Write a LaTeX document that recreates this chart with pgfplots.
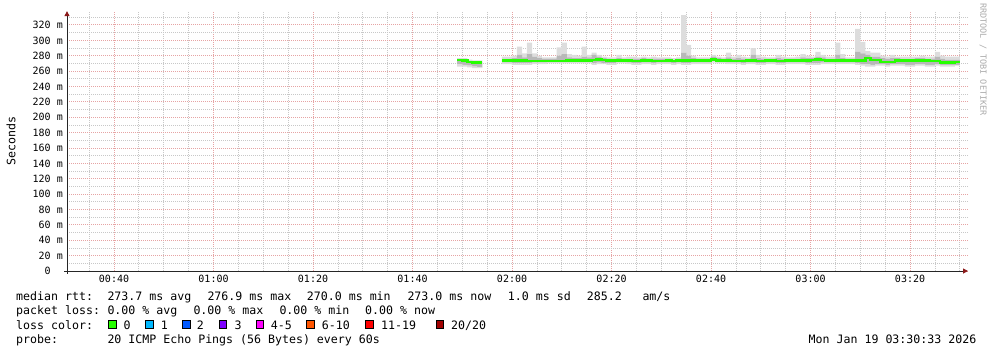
\documentclass[border=0pt]{standalone}
\usepackage{pgfplots}
\pgfplotsset{compat=1.18}
\usepackage{pgfplotstable}
\usetikzlibrary{arrows.meta}
\usepackage{fontspec}
\setmainfont{DejaVu Sans Mono}
\definecolor{smokeA}{HTML}{DDDDDD}
\definecolor{smokeB}{HTML}{B8B8B8}
\definecolor{medgreen}{HTML}{26FF00}
\definecolor{majgrid}{HTML}{E6A4A4}
\definecolor{mingrid}{HTML}{C8C8C8}
\definecolor{arrowred}{HTML}{8B1A1A}
\definecolor{lc0}{HTML}{26FF00}
\definecolor{lc1}{HTML}{00B8FF}
\definecolor{lc2}{HTML}{0059FF}
\definecolor{lc3}{HTML}{7E00FF}
\definecolor{lc4}{HTML}{FF00FF}
\definecolor{lc5}{HTML}{FF5500}
\definecolor{lc6}{HTML}{FF0000}
\definecolor{lc7}{HTML}{A10000}
\newcommand\lf{\fontsize{11.6bp}{14bp}\selectfont}
\newcommand\tf{\fontsize{10bp}{12bp}\selectfont}

% smoke: per-minute min, lower band, upper band, max
\pgfplotstableread{
t lo qlo qhi hi
109 266 269 275 277
110 266 268 275 277
111 265 267 273 275
112 264 266 272 274
113 264 265 272 274
118 269 271 276 279
119 269 271 276 279
120 268 270 277 280
121 268 270 281 292
122 268 270 278 283
123 268 270 282 297
124 269 271 279 283
125 269 271 277 280
126 269 271 276 278
127 270 272 276 278
128 270 272 276 278
129 270 272 280 291
130 270 272 282 297
131 270 272 278 282
132 270 272 277 281
133 270 272 277 280
134 270 272 279 292
135 270 272 278 281
136 268 270 281 284
137 269 271 279 281
138 269 270 277 279
139 268 270 276 278
140 268 270 275 278
141 270 272 277 281
142 270 272 276 278
143 269 271 276 279
144 268 270 276 279
145 268 270 276 278
146 269 271 277 279
147 269 271 276 278
148 268 270 276 279
149 269 271 276 278
150 269 271 276 278
151 269 271 276 278
152 268 270 275 277
153 269 271 276 278
154 268 270 284 333
155 268 270 280 294
156 269 271 277 280
157 269 271 276 278
158 269 271 276 278
159 269 271 276 278
160 271 273 279 281
161 270 272 277 279
162 270 272 276 278
163 269 271 278 284
164 269 271 276 279
165 269 271 277 281
166 268 270 276 279
167 269 271 276 278
168 269 271 281 290
169 268 270 277 281
170 268 270 276 279
171 269 271 276 278
172 269 271 276 278
173 268 270 277 281
174 268 270 276 279
175 269 271 276 278
176 269 271 276 278
177 269 271 276 279
178 269 271 278 282
179 268 270 277 280
180 268 270 277 279
181 268 270 279 285
182 269 271 278 281
183 269 271 276 279
184 269 271 276 279
185 269 271 281 297
186 269 271 277 282
187 269 271 276 278
188 269 271 276 278
189 268 270 285 315
190 267 269 283 298
191 266 269 281 286
192 266 268 279 284
193 267 269 279 284
194 267 269 277 280
195 266 268 276 279
196 267 269 277 281
197 267 269 277 279
198 267 269 276 279
199 266 268 276 279
200 266 268 276 279
201 267 269 277 279
202 267 269 277 280
203 266 268 276 279
204 266 268 276 279
205 267 269 279 285
206 266 268 276 280
207 266 268 275 279
208 266 268 275 279
209 267 268 275 279
}\smoke

% median rtt, first stretch
\pgfplotstableread{
t med
109 274.5
110 274
111 272
112 271.5
113 271.5
114 271.5
}\medA

% median rtt, second stretch
\pgfplotstableread{
t med
118 273.5
119 273.5
120 273.5
121 273.5
122 273.5
123 273
124 273
125 273
126 273
127 273
128 273
129 273
130 273
131 273.5
132 273.5
133 273.5
134 274
135 274
136 274.5
137 275
138 274.5
139 273.5
140 273.5
141 274
142 274
143 273.5
144 273
145 273
146 273.5
147 273.5
148 273
149 273
150 273
151 273.5
152 273
153 273.5
154 273.5
155 273.5
156 274
157 274
158 273.5
159 273.5
160 275.5
161 274
162 273.5
163 273.5
164 273
165 273
166 273
167 273.5
168 273.5
169 273
170 273
171 273.5
172 273.5
173 273
174 273
175 273.5
176 273.5
177 273.5
178 274
179 273.5
180 274.5
181 275
182 274.5
183 273.5
184 273.5
185 273.5
186 273.5
187 273.5
188 273.5
189 273.5
190 274
191 277
192 274.5
193 274.5
194 272
195 272
196 272
197 274
198 274
199 274
200 274
201 274
202 274
203 274
204 273
205 273
206 271.5
207 271.5
208 271.5
209 272
210 272
}\medB

\pgfplotsset{
  frame/.style={
    at={(67bp,-271bp)}, anchor=south west,
    scale only axis, width=901bp, height=259.84bp,
    xmin=30.55, xmax=211.65, ymin=0, ymax=338,
  }
}

\begin{document}
\begin{tikzpicture}
\path[use as bounding box] (0,0) rectangle (993bp,-353bp);
\begin{axis}[
  frame,
  axis lines=left,
  axis line style={draw=black!85, line width=1bp, -{Triangle[length=5bp,width=5bp,color=arrowred]}},
  xtick={40,60,...,200},
  xticklabels={00:40,01:00,01:20,01:40,02:00,02:20,02:40,03:00,03:20},
  minor xtick={35,45,50,55,65,70,75,85,90,95,105,110,115,125,130,135,145,150,155,165,170,175,185,190,195,205,210},
  ytick={0,20,...,320},
  yticklabels={0\phantom{ m},20 m,40 m,60 m,80 m,100 m,120 m,140 m,160 m,180 m,200 m,220 m,240 m,260 m,280 m,300 m,320 m},
  minor ytick={10,30,...,330},
  grid=both,
  major grid style={draw=majgrid, line width=1bp, dash pattern=on 1bp off 1bp},
  minor grid style={draw=mingrid, line width=0.8bp, dash pattern=on 1bp off 1bp},
  major tick length=0bp, minor tick length=0bp,
  xticklabel style={font=\tf, anchor=base, inner sep=0pt, yshift=-11bp},
  yticklabel style={font=\tf, anchor=east, inner sep=0pt, xshift=-4bp},
  ybar stacked, bar width=1.04,
]
\addplot[draw=none, fill=none, forget plot] table[x expr=\thisrow{t}+0.5, y=lo]{\smoke};
\addplot[draw=none, fill=smokeA, forget plot] table[x expr=\thisrow{t}+0.5, y expr=\thisrow{qlo}-\thisrow{lo}]{\smoke};
\addplot[draw=none, fill=smokeB, forget plot] table[x expr=\thisrow{t}+0.5, y expr=\thisrow{qhi}-\thisrow{qlo}]{\smoke};
\addplot[draw=none, fill=smokeA, forget plot] table[x expr=\thisrow{t}+0.5, y expr=\thisrow{hi}-\thisrow{qhi}]{\smoke};
\end{axis}
\begin{axis}[frame, hide axis]
\addplot[const plot, draw=medgreen, line width=2.6bp, forget plot] table[x=t,y=med]{\medA};
\addplot[const plot, draw=medgreen, line width=2.6bp, forget plot] table[x=t,y=med]{\medB};
\end{axis}
\draw[black!85, line width=1bp] (64bp,-271bp) -- (67bp,-271bp) -- (67bp,-274bp);
\node[rotate=90, font=\lf, inner sep=0pt] at (11bp,-141bp) {Seconds};
\node[rotate=-90, anchor=west, inner sep=0pt, text=black!33, font=\fontsize{8.5bp}{10bp}\selectfont] at (983bp,-3bp) {RRDTOOL / TOBI OETIKER};
\begin{scope}[every node/.style={anchor=base west, inner sep=0pt, font=\lf}]
\node at (16bp,-300.5bp) {median rtt:};
\node at (107.3bp,-300.5bp) {273.7 ms avg};
\node at (207.3bp,-300.5bp) {276.9 ms max};
\node at (306.7bp,-300.5bp) {270.0 ms min};
\node at (407.3bp,-300.5bp) {273.0 ms now};
\node at (507.7bp,-300.5bp) {1.0 ms sd};
\node at (586.7bp,-300.5bp) {285.2};
\node at (642.3bp,-300.5bp) {am/s};
\node at (16bp,-314.8bp) {packet loss:};
\node at (107.3bp,-314.8bp) {0.00 \% avg};
\node at (193.3bp,-314.8bp) {0.00 \% max};
\node at (279.3bp,-314.8bp) {0.00 \% min};
\node at (365bp,-314.8bp) {0.00 \% now};
\node at (16bp,-329bp) {loss color:};
\node at (123.3bp,-329bp) {0};
\node at (160.7bp,-329bp) {1};
\node at (196.7bp,-329bp) {2};
\node at (234.3bp,-329bp) {3};
\node at (270.7bp,-329bp) {4-5};
\node at (321.7bp,-329bp) {6-10};
\node at (381bp,-329bp) {11-19};
\node at (451bp,-329bp) {20/20};
\node at (16bp,-343.3bp) {probe:};
\node at (107.3bp,-343.3bp) {20 ICMP Echo Pings (56 Bytes) every 60s};
\node[anchor=base east] at (976.5bp,-343.3bp) {Mon Jan 19 03:30:33 2026};
\end{scope}
\foreach \bx/\c in {108.5/lc0,145.7/lc1,182.3/lc2,219/lc3,256/lc4,306.3/lc5,365.7/lc6,436/lc7}{
  \filldraw[fill=\c, draw=black, line width=0.7bp] (\bx bp,-320bp) rectangle ++(7.8bp,-8bp);
}
\end{tikzpicture}
\end{document}
